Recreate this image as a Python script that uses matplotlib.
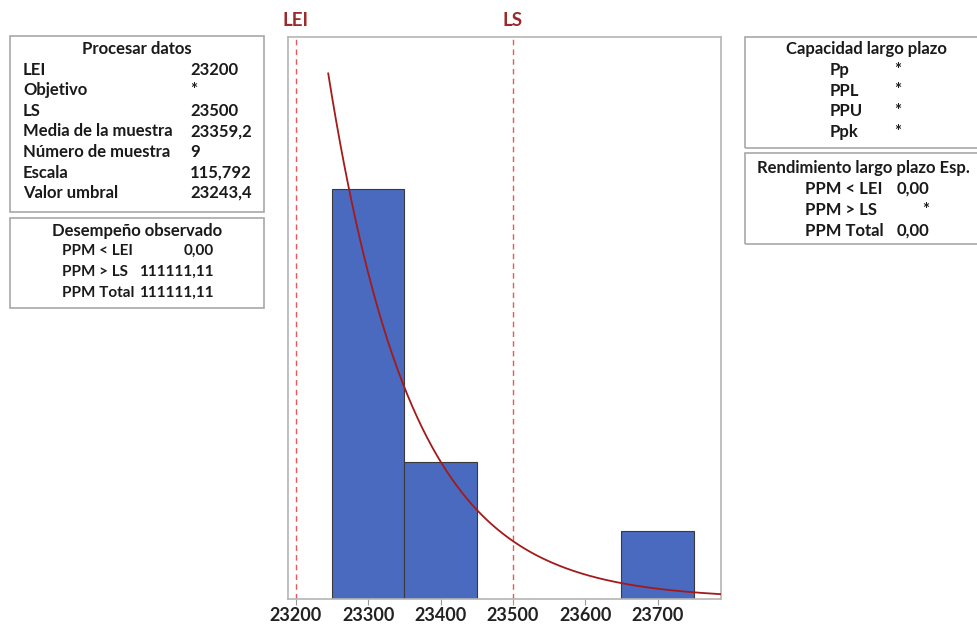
import numpy as np
import matplotlib
matplotlib.use("Agg")
import matplotlib.pyplot as plt
from matplotlib.patches import Rectangle

plt.rcParams['font.family'] = ['Lato', 'DejaVu Sans']

# datos del proceso
lei = 23200
ls = 23500
escala = 115.792
umbral = 23243.4
n = 9
bin_edges = [23250, 23350, 23450, 23550, 23650, 23750]
counts = [6, 2, 0, 0, 1]
xticks = [23200, 23300, 23400, 23500, 23600, 23700]

proc_labels = ["LEI", "Objetivo", "LS", "Media de la muestra", "Número de muestra", "Escala", "Valor umbral"]
proc_values = ["23200", "*", "23500", "23359,2", "9", "115,792", "23243,4"]
obs_labels = ["PPM < LEI", "PPM > LS", "PPM Total"]
obs_values = ["0,00", "111111,11", "111111,11"]
cap_labels = ["Pp", "PPL", "PPU", "Ppk"]
cap_values = ["*", "*", "*", "*"]
esp_labels = ["PPM < LEI", "PPM > LS", "PPM Total"]
esp_values = ["0,00", "*", "0,00"]

W, H = 977, 625
fig = plt.figure(figsize=(W / 100, H / 100), dpi=100)

def fx(x):
    return x / W

def fy(y):
    return 1 - y / H

ax = fig.add_axes([fx(288), fy(599), fx(721) - fx(288), fy(37) - fy(599)])

widths = np.diff(bin_edges)
dens = np.array(counts) / (n * widths)
ax.bar(bin_edges[:-1], dens, width=widths, align='edge', color='#4a6abf',
       edgecolor='#3a3a3a', linewidth=0.8, zorder=2)

xs = np.linspace(umbral + 1.2, 23790, 400)
pdf = np.exp(-(xs - umbral) / escala) / escala
ax.plot(xs, pdf, color='#a31a1a', linewidth=1.3, zorder=3)

for v in (lei, ls):
    ax.axvline(v, color='#e8585a', linestyle=(0, (4, 3)), linewidth=1.0, zorder=1)

ax.set_xlim(23189, 23787.6)
ax.set_ylim(0, 0.00914)
ax.set_yticks([])
ax.set_xticks(xticks)
ax.set_xticklabels([str(t) for t in xticks], fontsize=13, fontweight='bold', color='#222222')
ax.tick_params(axis='x', length=4, width=0.8, color='#999999', pad=2)
for s in ax.spines.values():
    s.set_color('#b5b5b5')
    s.set_linewidth(1.2)

fig.text(fx(296), fy(20), "LEI", color='#9c2a2a', fontsize=13.5, fontweight='bold', ha='center', va='center')
fig.text(fx(513), fy(20), "LS", color='#9c2a2a', fontsize=13.5, fontweight='bold', ha='center', va='center')

def caja(x0, y0, x1, y1):
    fig.add_artist(Rectangle((fx(x0), fy(y1)), fx(x1) - fx(x0), fy(y0) - fy(y1),
                             transform=fig.transFigure, fill=False,
                             edgecolor='#a8a8a8', linewidth=1.2))

fs = 12
tc = '#1a1a1a'

# Procesar datos
caja(10, 36, 264, 212)
fig.text(fx(137), fy(49), "Procesar datos", fontsize=fs, fontweight='bold', color=tc, ha='center', va='center')
for i, (l, v) in enumerate(zip(proc_labels, proc_values)):
    y = 70 + i * 20.5
    fig.text(fx(23), fy(y), l, fontsize=fs, fontweight='bold', color=tc, ha='left', va='center')
    fig.text(fx(190), fy(y), v, fontsize=fs, fontweight='bold', color=tc, ha='left', va='center')

# Desempeño observado
caja(10, 218, 264, 308)
fig.text(fx(137), fy(231), "Desempeño observado", fontsize=fs, fontweight='bold', color=tc, ha='center', va='center')
for i, (l, v) in enumerate(zip(obs_labels, obs_values)):
    y = 251 + i * 21
    fig.text(fx(62), fy(y), l, fontsize=11, fontweight='bold', color=tc, ha='left', va='center')
    fig.text(fx(214), fy(y), v, fontsize=11, fontweight='bold', color=tc, ha='right', va='center')

# Capacidad largo plazo
caja(745, 37, 985, 148)
fig.text(fx(866), fy(49), "Capacidad largo plazo", fontsize=fs, fontweight='bold', color=tc, ha='center', va='center')
for i, (l, v) in enumerate(zip(cap_labels, cap_values)):
    y = 70 + i * 20.5
    fig.text(fx(830), fy(y), l, fontsize=fs, fontweight='bold', color=tc, ha='left', va='center')
    fig.text(fx(898), fy(y), v, fontsize=fs, fontweight='bold', color=tc, ha='center', va='center')

# Rendimiento largo plazo Esp.
caja(745, 153, 985, 244)
fig.text(fx(757), fy(168), "Rendimiento largo plazo Esp.", fontsize=fs, fontweight='bold', color=tc, ha='left', va='center')
for i, (l, v) in enumerate(zip(esp_labels, esp_values)):
    y = 189 + i * 21
    fig.text(fx(805), fy(y), l, fontsize=fs, fontweight='bold', color=tc, ha='left', va='center')
    fig.text(fx(929), fy(y), v, fontsize=fs, fontweight='bold', color=tc, ha='right', va='center')

fig.savefig("out.png", dpi=100, facecolor='white')
